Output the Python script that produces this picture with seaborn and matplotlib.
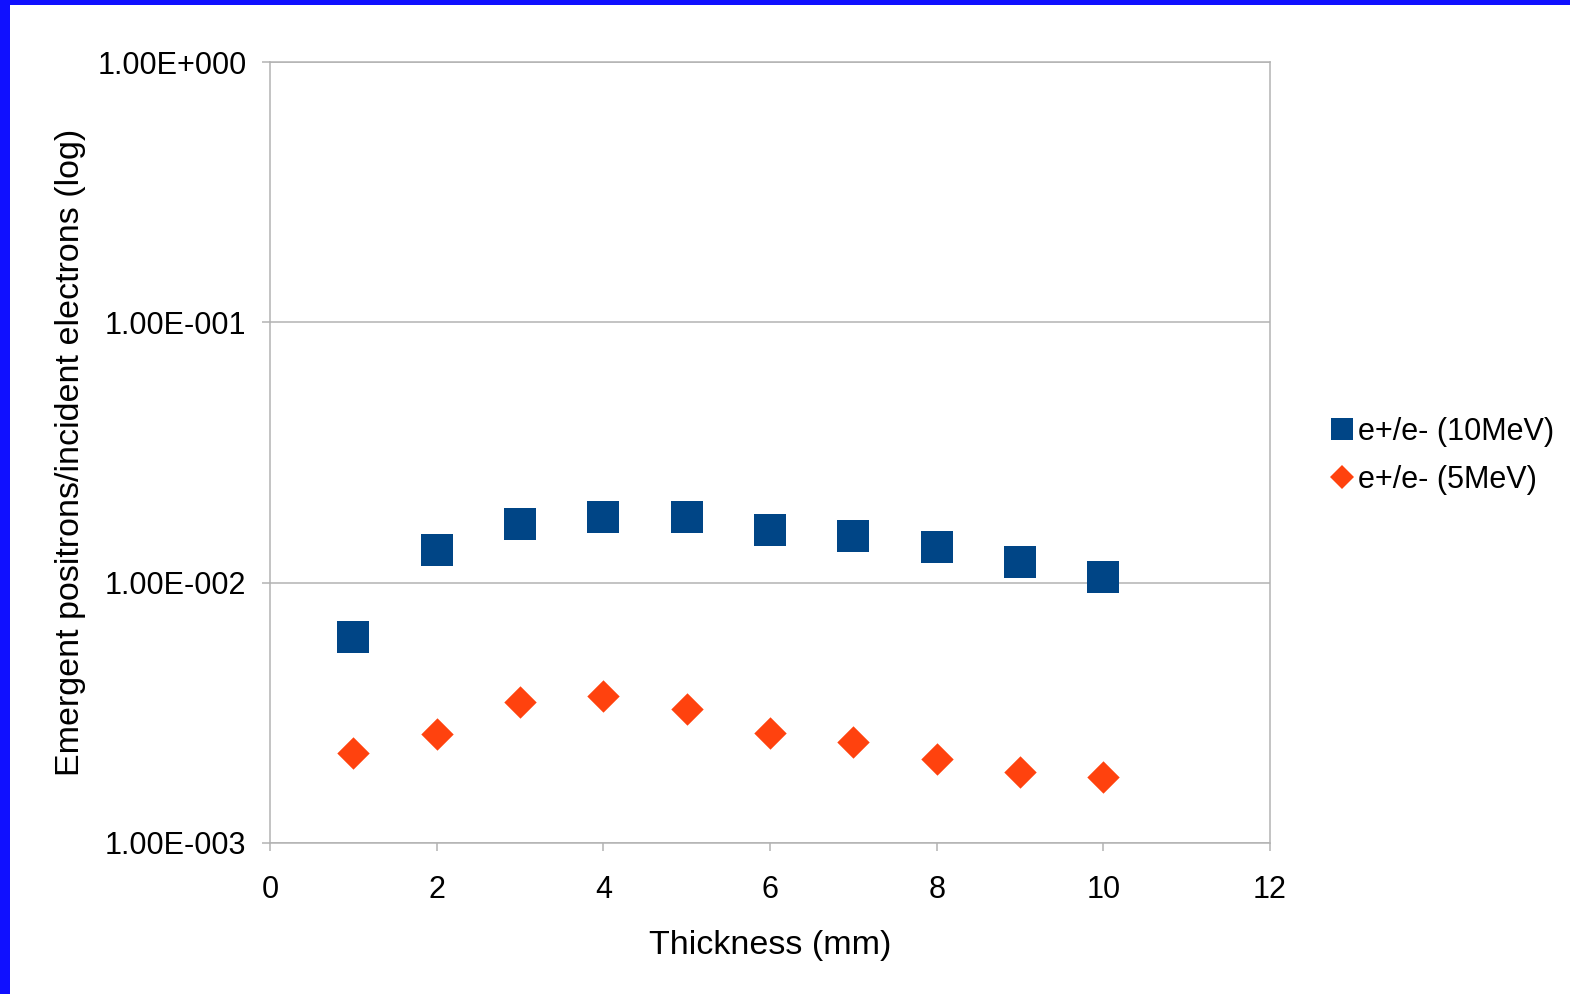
import matplotlib
matplotlib.use("Agg")
import matplotlib.pyplot as plt
import matplotlib.patches as mpatches
from matplotlib.lines import Line2D
from matplotlib.ticker import FuncFormatter, NullLocator
import numpy as np
import pandas as pd
import seaborn as sns

# Data
thickness_mm = [1, 2, 3, 4, 5, 6, 7, 8, 9, 10]
ratio_10mev = [0.0062, 0.0133, 0.0168, 0.0178, 0.0178, 0.0160, 0.0151, 0.0137, 0.0120, 0.0105]
ratio_5mev = [0.00222, 0.00263, 0.00349, 0.00368, 0.00328, 0.00265, 0.00245, 0.00211, 0.00187, 0.00180]
series_labels = ["e+/e- (10MeV)", "e+/e- (5MeV)"]
y_ticks = [1e-3, 1e-2, 1e-1, 1e0]
x_ticks = [0, 2, 4, 6, 8, 10, 12]

sns.set_style("white")
plt.rcParams["font.family"] = ["Liberation Sans", "DejaVu Sans"]
plt.rcParams["text.color"] = "black"
plt.rcParams["axes.labelcolor"] = "black"

BLUE = "#004586"
ORANGE = "#ff420e"
GREY = "#b3b3b3"

df = pd.DataFrame({
    "thickness": thickness_mm * 2,
    "ratio": ratio_10mev + ratio_5mev,
    "series": [series_labels[0]] * len(thickness_mm) + [series_labels[1]] * len(thickness_mm),
})

fig = plt.figure(figsize=(15.7, 9.94), dpi=100)
ax = fig.add_axes([270 / 1570, 1 - 843 / 994, 1000 / 1570, 781 / 994])

sns.scatterplot(data=df[df.series == series_labels[0]], x="thickness", y="ratio",
                marker="s", s=22.5 ** 2, color=BLUE, linewidth=0, ax=ax, legend=False)
sns.scatterplot(data=df[df.series == series_labels[1]], x="thickness", y="ratio",
                marker="D", s=16.5 ** 2, color=ORANGE, linewidth=0, ax=ax, legend=False)

ax.set_yscale("log")
ax.set_ylim(y_ticks[0], y_ticks[-1])
ax.set_xlim(x_ticks[0], x_ticks[-1])
ax.set_xticks(x_ticks)
ax.set_yticks(y_ticks)
ax.yaxis.set_minor_locator(NullLocator())


def sci_label(v, pos):
    exp = int(np.floor(np.log10(v) + 1e-9))
    mant = v / 10 ** exp
    return f"{mant:.2f}E{exp:+04d}"


ax.yaxis.set_major_formatter(FuncFormatter(sci_label))
ax.xaxis.set_major_formatter(FuncFormatter(lambda v, p: f"{int(v)}"))

ax.grid(axis="y", color=GREY, linewidth=1.1)
ax.grid(axis="x", visible=False)
ax.set_axisbelow(True)
for sp in ax.spines.values():
    sp.set_color(GREY)
    sp.set_linewidth(1.1)
ax.tick_params(axis="both", which="major", direction="out", length=6, width=1.1,
               color=GREY, labelsize=22, labelcolor="black")
ax.tick_params(axis="y", pad=11)
ax.tick_params(axis="x", pad=17)
ax.tick_params(left=True, bottom=True)

ax.set_xlabel("Thickness (mm)", fontsize=24.5, labelpad=18)
ax.set_ylabel("Emergent positrons/incident electrons (log)", fontsize=24.5, labelpad=8)

handles = [
    Line2D([], [], linestyle="none", marker="s", markersize=15.5, color=BLUE, markeredgewidth=0),
    Line2D([], [], linestyle="none", marker="D", markersize=12, color=ORANGE, markeredgewidth=0),
]
fig.legend(handles, series_labels, loc="center left", bbox_to_anchor=(1331 / 1570, 1 - 456 / 994),
           frameon=False, fontsize=22, handlelength=0.75, handletextpad=0.12,
           labelspacing=0.6, borderpad=0, borderaxespad=0)

# Blue frame along the left and top edges
fig.add_artist(mpatches.Rectangle((0, 0), 10 / 1570, 1, transform=fig.transFigure,
                                  color="#1010ff", linewidth=0, zorder=10))
fig.add_artist(mpatches.Rectangle((0, 1 - 5 / 994), 1, 5 / 994, transform=fig.transFigure,
                                  color="#1010ff", linewidth=0, zorder=10))

fig.savefig("out.png", dpi=100, facecolor="white")
